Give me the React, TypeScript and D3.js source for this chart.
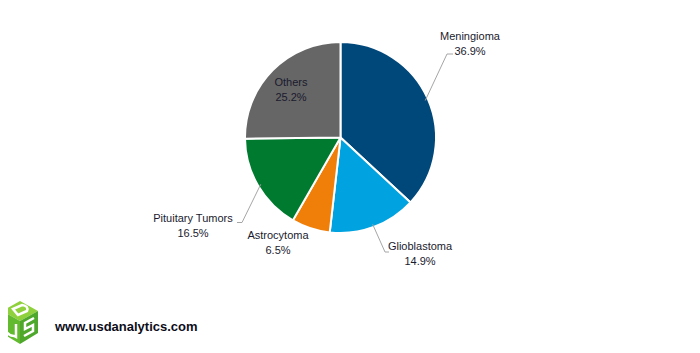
import React from "react";
import * as d3 from "d3";

const categories = ["Meningioma", "Glioblastoma", "Astrocytoma", "Pituitary Tumors", "Others"];
const shares = [36.9, 14.9, 6.5, 16.5, 25.2];
const colors = ["#00477a", "#00a3e0", "#f07f09", "#007a2f", "#666666"];

const W = 700, H = 353;
const cx = 340.5, cy = 137.5, R = 95.5;

export default function App() {
  const pie = d3.pie<number>().sort(null).value((d) => d)(shares);
  const arc = d3.arc<d3.PieArcDatum<number>>().innerRadius(0).outerRadius(R);
  const edge = (a: number, r = R) => [Math.sin(a) * r, -Math.cos(a) * r];
  const mid = (i: number) => (pie[i].startAngle + pie[i].endAngle) / 2;
  const font = "'Liberation Sans', Arial, sans-serif";
  const tc = "#1a1a2e";

  // label placements (offsets relative to center)
  const labels = [
    { x: 470 - cx, y: 39.5 - cy, leader: [[447 - cx, 54 - cy], [453 - cx, 54 - cy]] },
    { x: 420 - cx, y: 250 - cy, leader: [[385 - cx, 252 - cy], [389 - cx, 252 - cy]] },
    { x: 278 - cx, y: 238.5 - cy, leader: null },
    { x: 193 - cx, y: 221.5 - cy, leader: [[242 - cx, 222.5 - cy], [237 - cx, 222.5 - cy]] },
    { x: 291 - cx, y: 86 - cy, leader: null },
  ];

  return (
    <svg width={W} height={H} style={{ display: "block", margin: -8 }} viewBox={`0 0 ${W} ${H}`}>
      <rect width={W} height={H} fill="#fff" />
      <g transform={`translate(${cx},${cy})`}>
        {pie.map((p, i) => (
          <path key={i} d={arc(p) || ""} fill={colors[i]} stroke="#fff" strokeWidth={2} strokeLinejoin="round" />
        ))}
        {labels.map((l, i) => {
          const e = edge(mid(i), R - 3);
          return (
            <g key={i}>
              {l.leader && (
                <polyline
                  points={[e, l.leader[0], l.leader[1]].map((q) => q.join(",")).join(" ")}
                  fill="none"
                  stroke="#a6a6a6"
                  strokeWidth={1}
                />
              )}
              <text x={l.x} y={l.y} textAnchor="middle" fontFamily={font} fontSize={11} fill={tc}>
                <tspan x={l.x} dy={0}>{categories[i]}</tspan>
                <tspan x={l.x} dy={15}>{shares[i].toFixed(1)}%</tspan>
              </text>
            </g>
          );
        })}
      </g>
      {/* logo */}
      <g>
        <polygon points="20,301 38,311 20,321 2,311" fill="#8fd13c" />
        <polygon points="2,311 20,321 20,344 2,333" fill="#62ba2e" />
        <polygon points="38,311 20,321 20,344 38,333" fill="#4ea82b" />
        <path d="M13,309 L22,305 Q29,306 27,311 L18,315 Z" fill="none" stroke="#fff" strokeWidth={2.5} />
        <path d="M6,318 L6,331 Q9,336 14,336 L16,337 L16,324" fill="none" stroke="#fff" strokeWidth={2.5} />
        <path d="M34,318 L25,323 L25,329 L33,325 L33,331 L24,336" fill="none" stroke="#fff" strokeWidth={2.5} />
      </g>
      <text x={55} y={331} fontFamily={font} fontWeight="bold" fontSize={13} fill="#0d0d1a">
        www.usdanalytics.com
      </text>
    </svg>
  );
}
